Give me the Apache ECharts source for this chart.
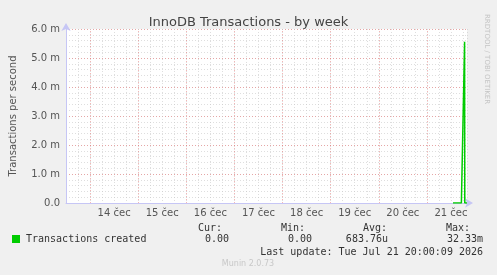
<!DOCTYPE html>
<html>
<head>
<meta charset="utf-8">
<script src="https://cdn.jsdelivr.net/npm/echarts@6/dist/echarts.min.js"></script>
<style>
html,body{margin:0;padding:0;background:#f0f0f0;}
#c{width:497px;height:275px;}
</style>
</head>
<body>
<div id="c"></div>
<script>
// hours since 13 Jul 00:00
var timeHours = [205.0, 209.2, 210.8, 210.9, 212.0];
var txValues = [0, 0, 5.56, 0, 0]; // milli-transactions per second
var dayLabels = ['14 čec', '15 čec', '16 čec', '17 čec', '18 čec', '19 čec', '20 čec', '21 čec'];
var dayLabelHours = [36, 60, 84, 108, 132, 156, 180, 204];
var midnightHours = [24, 48, 72, 96, 120, 144, 168, 192];
var yTicks = [0, 1, 2, 3, 4, 5, 6];
var legendName = 'Transactions created';
var statHeads = ['Cur:', 'Min:', 'Avg:', 'Max:'];
var statVals = ['0.00', '0.00', '683.76u', '32.33m'];
var lastUpdate = 'Last update: Tue Jul 21 20:00:09 2026';

var chart = echarts.init(document.getElementById('c'), null, {renderer: 'canvas'});
var axisCol = '#c6c6f5';
var majorCol = 'rgba(235,110,110,0.5)';
var minorCol = 'rgba(200,200,200,0.6)';
var mono = 'DejaVu Sans Mono';

var points = timeHours.map(function (t, i) { return [t, txValues[i]]; });

var statX = [222, 305, 387, 470];
var valX = [229, 312, 388, 483];
var graphics = [
  {type: 'rect', shape: {x: 66, y: 29, width: 401, height: 174}, style: {fill: '#ffffff'}, z: -10},
  {type: 'rect', shape: {x: 12, y: 235, width: 8, height: 8}, style: {fill: '#00cc00'}},
  {type: 'text', x: 26, y: 239, style: {text: legendName, font: '10px ' + mono, fill: '#333', textVerticalAlign: 'middle'}},
  {type: 'text', x: 483, y: 252, style: {text: lastUpdate, font: '10px ' + mono, fill: '#333', textAlign: 'right', textVerticalAlign: 'middle'}},
  {type: 'text', x: 248, y: 264, style: {text: 'Munin 2.0.73', font: '8px DejaVu Sans', fill: '#c8c8c8', textAlign: 'center', textVerticalAlign: 'middle'}},
  {type: 'text', x: 487, y: 14, rotation: -Math.PI / 2, style: {text: 'RRDTOOL / TOBI OETIKER', font: '7px DejaVu Sans', fill: '#c4c4c4', textVerticalAlign: 'middle'}}
];
statHeads.forEach(function (h, i) {
  graphics.push({type: 'text', x: statX[i], y: 228, style: {text: h, font: '10px ' + mono, fill: '#333', textAlign: 'right', textVerticalAlign: 'middle'}});
  graphics.push({type: 'text', x: valX[i], y: 239, style: {text: statVals[i], font: '10px ' + mono, fill: '#333', textAlign: 'right', textVerticalAlign: 'middle'}});
});

chart.setOption({
  backgroundColor: '#f0f0f0',
  animation: false,
  title: {
    text: 'InnoDB Transactions - by week', left: 'center', top: 11,
    textStyle: {fontFamily: 'DejaVu Sans', fontSize: 13, fontWeight: 'normal', color: '#444'}
  },
  grid: {left: 66, top: 29, right: 30, bottom: 72, show: false},
  xAxis: [
    {
      type: 'value', min: 12, max: 212, interval: 6,
      axisLine: {show: false}, axisTick: {show: false}, axisLabel: {show: false},
      splitLine: {show: true, lineStyle: {color: minorCol, type: [1, 2], width: 1}}
    },
    {
      type: 'value', min: 12, max: 212, interval: 24, position: 'bottom',
      axisLine: {show: true, lineStyle: {color: axisCol, width: 1}, symbol: ['none', 'arrow'], symbolSize: [7, 8], symbolOffset: [0, 6]},
      axisTick: {show: false},
      splitLine: {show: false},
      axisLabel: {
        margin: 5, fontFamily: 'DejaVu Sans', fontSize: 10, color: '#555',
        formatter: function (v) {
          var i = dayLabelHours.indexOf(v);
          return i >= 0 ? dayLabels[i] : '';
        }
      }
    }
  ],
  yAxis: [
    {
      type: 'value', min: 0, max: 6, interval: 0.2,
      axisLine: {show: false}, axisTick: {show: false}, axisLabel: {show: false},
      splitLine: {show: true, lineStyle: {color: minorCol, type: [1, 2], width: 1}}
    },
    {
      type: 'value', min: 0, max: 6, interval: 1, position: 'left',
      name: 'Transactions per second', nameLocation: 'middle', nameRotate: 90, nameGap: 48,
      nameTextStyle: {fontFamily: 'DejaVu Sans', fontSize: 10, color: '#555'},
      axisLine: {show: true, lineStyle: {color: axisCol, width: 1}, symbol: ['none', 'arrow'], symbolSize: [7, 8], symbolOffset: [0, 6]},
      axisTick: {show: false},
      axisLabel: {
        margin: 6, fontFamily: 'DejaVu Sans', fontSize: 10, color: '#555',
        formatter: function (v) { return yTicks.indexOf(v) === 0 ? '0.0' : v.toFixed(1) + ' m'; }
      },
      splitLine: {show: true, lineStyle: {color: majorCol, type: [1, 2], width: 1}}
    }
  ],
  series: [{
    type: 'line', xAxisIndex: 1, yAxisIndex: 1,
    data: points, showSymbol: false, symbol: 'none',
    lineStyle: {color: '#00cc00', width: 1.5},
    z: 5,
    markLine: {
      silent: true, symbol: 'none', label: {show: false},
      lineStyle: {color: majorCol, type: [1, 2], width: 1},
      data: midnightHours.map(function (h) { return {xAxis: h}; })
    }
  }],
  graphic: graphics
});
</script>
</body>
</html>
